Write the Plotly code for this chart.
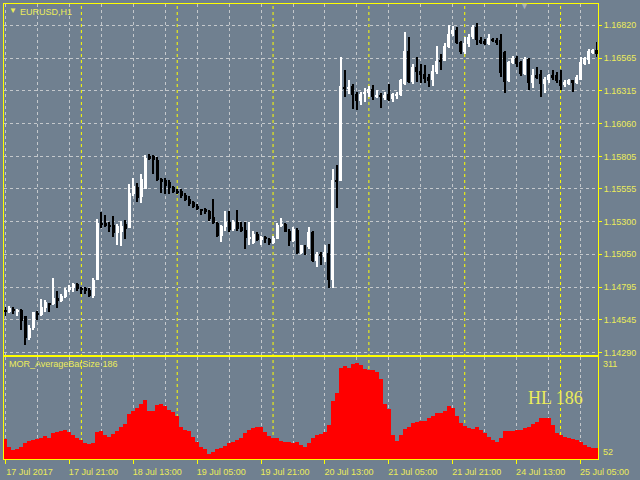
import plotly.graph_objects as go

# ---------------- data (EURUSD H1) ----------------
opens = [
    1.14618, 1.14606, 1.14626, 1.14606, 1.14616, 1.14575, 1.14402, 1.14478, 1.14593, 1.14580,
    1.14631, 1.14669, 1.14663, 1.14708, 1.14687, 1.14721, 1.14772, 1.14790, 1.14817, 1.14790,
    1.14786, 1.14772, 1.14726, 1.14848, 1.15288, 1.15288, 1.15275, 1.15275, 1.15214, 1.15219,
    1.15282, 1.15250, 1.15512, 1.15571, 1.15495, 1.15556, 1.15806, 1.15811, 1.15780, 1.15627,
    1.15622, 1.15610, 1.15571, 1.15536, 1.15536, 1.15505, 1.15479, 1.15449, 1.15423, 1.15396,
    1.15396, 1.15381, 1.15334, 1.15290, 1.15193, 1.15257, 1.15299, 1.15244, 1.15299, 1.15257,
    1.15238, 1.15168, 1.15137, 1.15205, 1.15162, 1.15181, 1.15168, 1.15137, 1.15168, 1.15270,
    1.15282, 1.15232, 1.15155, 1.15238, 1.15060, 1.15122, 1.15104, 1.15223, 1.14994, 1.15053,
    1.15028, 1.15060, 1.14848, 1.15621, 1.15614, 1.16342, 1.16330, 1.16347, 1.16291, 1.16235,
    1.16286, 1.16296, 1.16324, 1.16265, 1.16283, 1.16253, 1.16286, 1.16245, 1.16273, 1.16278,
    1.16368, 1.16623, 1.16380, 1.16495, 1.16464, 1.16439, 1.16419, 1.16393, 1.16457, 1.16552,
    1.16546, 1.16654, 1.16751, 1.16782, 1.16687, 1.16610, 1.16674, 1.16725, 1.16807, 1.16705,
    1.16694, 1.16674, 1.16713, 1.16705, 1.16705, 1.16610, 1.16385, 1.16529, 1.16567, 1.16533,
    1.16439, 1.16559, 1.16373, 1.16431, 1.16444, 1.16368, 1.16393, 1.16431, 1.16431, 1.16393,
    1.16355, 1.16368, 1.16393, 1.16373, 1.16399, 1.16521, 1.16552, 1.16602, 1.16628,
]
highs = [
    1.14644, 1.14652, 1.14639, 1.14626, 1.14626, 1.14575, 1.14504, 1.14606, 1.14611, 1.14700,
    1.14695, 1.14673, 1.14869, 1.14765, 1.14743, 1.14786, 1.14812, 1.14830, 1.14825, 1.14798,
    1.14795, 1.14786, 1.14867, 1.15321, 1.15372, 1.15351, 1.15295, 1.15346, 1.15282, 1.15308,
    1.15315, 1.15594, 1.15640, 1.15602, 1.15667, 1.15819, 1.15821, 1.15819, 1.15803, 1.15640,
    1.15640, 1.15622, 1.15576, 1.15551, 1.15551, 1.15525, 1.15499, 1.15461, 1.15436, 1.15400,
    1.15404, 1.15388, 1.15474, 1.15295, 1.15275, 1.15381, 1.15381, 1.15315, 1.15388, 1.15299,
    1.15295, 1.15295, 1.15232, 1.15219, 1.15193, 1.15188, 1.15173, 1.15193, 1.15288, 1.15328,
    1.15290, 1.15244, 1.15257, 1.15250, 1.15122, 1.15122, 1.15257, 1.15232, 1.15066, 1.15070,
    1.15122, 1.15129, 1.15704, 1.15737, 1.16577, 1.16470, 1.16393, 1.16368, 1.16304, 1.16304,
    1.16330, 1.16347, 1.16355, 1.16317, 1.16296, 1.16304, 1.16363, 1.16296, 1.16304, 1.16406,
    1.16769, 1.16730, 1.16521, 1.16577, 1.16521, 1.16508, 1.16444, 1.16508, 1.16661, 1.16598,
    1.16679, 1.16822, 1.16815, 1.16802, 1.16700, 1.16725, 1.16751, 1.16822, 1.16835, 1.16725,
    1.16713, 1.16751, 1.16720, 1.16720, 1.16751, 1.16623, 1.16546, 1.16585, 1.16585, 1.16546,
    1.16572, 1.16567, 1.16483, 1.16495, 1.16470, 1.16419, 1.16444, 1.16470, 1.16457, 1.16470,
    1.16393, 1.16406, 1.16399, 1.16431, 1.16572, 1.16577, 1.16636, 1.16636, 1.16687,
]
lows = [
    1.14568, 1.14593, 1.14585, 1.14568, 1.14465, 1.14346, 1.14389, 1.14465, 1.14542, 1.14575,
    1.14606, 1.14606, 1.14657, 1.14631, 1.14677, 1.14708, 1.14759, 1.14754, 1.14765, 1.14743,
    1.14743, 1.14721, 1.14713, 1.14848, 1.15250, 1.15257, 1.15223, 1.15181, 1.15122, 1.15112,
    1.15168, 1.15250, 1.15499, 1.15449, 1.15444, 1.15551, 1.15780, 1.15667, 1.15612, 1.15525,
    1.15512, 1.15512, 1.15520, 1.15517, 1.15487, 1.15461, 1.15423, 1.15410, 1.15388, 1.15355,
    1.15357, 1.15308, 1.15282, 1.15181, 1.15142, 1.15232, 1.15223, 1.15232, 1.15232, 1.15219,
    1.15091, 1.15122, 1.15129, 1.15155, 1.15122, 1.15137, 1.15122, 1.15127, 1.15168, 1.15257,
    1.15219, 1.15116, 1.15142, 1.15050, 1.15053, 1.15043, 1.15091, 1.14989, 1.14951, 1.14963,
    1.14989, 1.14790, 1.14790, 1.15405, 1.15614, 1.16265, 1.16291, 1.16171, 1.16163, 1.16202,
    1.16227, 1.16265, 1.16240, 1.16253, 1.16181, 1.16240, 1.16235, 1.16227, 1.16245, 1.16270,
    1.16355, 1.16373, 1.16368, 1.16380, 1.16373, 1.16373, 1.16342, 1.16347, 1.16444, 1.16470,
    1.16541, 1.16644, 1.16738, 1.16674, 1.16598, 1.16598, 1.16654, 1.16713, 1.16669, 1.16674,
    1.16669, 1.16669, 1.16687, 1.16667, 1.16419, 1.16296, 1.16378, 1.16521, 1.16495, 1.16424,
    1.16431, 1.16322, 1.16330, 1.16406, 1.16261, 1.16299, 1.16373, 1.16393, 1.16373, 1.16317,
    1.16342, 1.16355, 1.16304, 1.16368, 1.16393, 1.16508, 1.16516, 1.16598, 1.16572,
]
closes = [
    1.14606, 1.14631, 1.14611, 1.14618, 1.14534, 1.14402, 1.14478, 1.14599, 1.14580, 1.14644,
    1.14677, 1.14662, 1.14708, 1.14687, 1.14729, 1.14772, 1.14799, 1.14817, 1.14777, 1.14779,
    1.14765, 1.14729, 1.14853, 1.15288, 1.15277, 1.15265, 1.15257, 1.15214, 1.15270, 1.15270,
    1.15244, 1.15520, 1.15576, 1.15487, 1.15627, 1.15793, 1.15786, 1.15780, 1.15622, 1.15614,
    1.15576, 1.15558, 1.15530, 1.15525, 1.15499, 1.15469, 1.15436, 1.15415, 1.15396, 1.15386,
    1.15376, 1.15321, 1.15288, 1.15188, 1.15270, 1.15295, 1.15238, 1.15299, 1.15244, 1.15232,
    1.15173, 1.15175, 1.15205, 1.15162, 1.15185, 1.15168, 1.15137, 1.15175, 1.15275, 1.15282,
    1.15223, 1.15155, 1.15244, 1.15060, 1.15122, 1.15112, 1.15223, 1.14994, 1.15053, 1.15043,
    1.15066, 1.14848, 1.15621, 1.15612, 1.16347, 1.16327, 1.16342, 1.16278, 1.16235, 1.16291,
    1.16304, 1.16324, 1.16265, 1.16278, 1.16261, 1.16283, 1.16240, 1.16286, 1.16291, 1.16393,
    1.16623, 1.16380, 1.16495, 1.16457, 1.16431, 1.16406, 1.16388, 1.16464, 1.16546, 1.16541,
    1.16661, 1.16755, 1.16782, 1.16679, 1.16610, 1.16679, 1.16725, 1.16807, 1.16705, 1.16679,
    1.16679, 1.16720, 1.16700, 1.16679, 1.16451, 1.16380, 1.16533, 1.16567, 1.16521, 1.16439,
    1.16559, 1.16373, 1.16431, 1.16414, 1.16368, 1.16406, 1.16431, 1.16414, 1.16385, 1.16347,
    1.16380, 1.16393, 1.16373, 1.16419, 1.16533, 1.16567, 1.16623, 1.16631, 1.16598,
]
avg_bar_size = [
    103, 83, 75, 77, 82, 93, 97, 100, 103, 105,
    110, 105, 117, 120, 123, 125, 122, 114, 105, 99,
    93, 90, 93, 120, 123, 113, 109, 116, 124, 133,
    141, 167, 176, 182, 194, 204, 176, 176, 190, 193,
    187, 178, 173, 163, 133, 126, 123, 107, 94, 83,
    77, 64, 70, 77, 80, 84, 93, 94, 101, 105,
    117, 126, 130, 133, 133, 120, 110, 105, 105, 98,
    96, 94, 93, 94, 87, 83, 93, 105, 112, 116,
    120, 139, 201, 223, 287, 291, 287, 297, 300, 294,
    284, 282, 281, 276, 258, 194, 180, 112, 97, 112,
    128, 135, 143, 148, 150, 150, 156, 161, 171, 169,
    176, 187, 184, 163, 143, 137, 130, 128, 133, 127,
    117, 107, 101, 94, 105, 123, 123, 123, 127, 127,
    130, 135, 141, 148, 156, 158, 158, 140, 118, 114,
    109, 105, 103, 99, 94, 86, 83, 80, 80,
]

time_tick_bars = [0, 16, 32, 48, 64, 80, 96, 112, 128, 144]
time_tick_labels = ["17 Jul 2017", "17 Jul 21:00", "18 Jul 13:00", "19 Jul 05:00",
                    "19 Jul 21:00", "20 Jul 13:00", "21 Jul 05:00", "21 Jul 21:00",
                    "24 Jul 13:00", "25 Jul 05:00"]
price_ticks = [1.16820, 1.16565, 1.16315, 1.16060, 1.15805, 1.15555,
               1.15300, 1.15050, 1.14795, 1.14545, 1.14290]
day_separators = [19, 43, 67, 91, 115, 139]
symbol_label = "EURUSD,H1"
indicator_label = "MOR_AverageBarSize 186"
indicator_big_label = "HL 186"
indicator_max_label = "311"
indicator_min_label = "52"

# ---------------- styling ----------------
BG = "#708090"
YEL = "#ffff00"
TXT = "#ecec5a"
GRID = "#c4c8cc"
FONT = "Liberation Sans"

W, H = 640, 480
ML, MR, MT, MB = 3, 42, 3, 18
PW, PH = W - ML - MR, H - MT - MB


def px_x(p):
    return (p - ML) / PW


def px_y(p):
    return (H - MB - p) / PH


idx = list(range(len(opens)))
cols = ["#ffffff" if c >= o else "#000000" for o, c in zip(opens, closes)]
body_base = [min(o, c) for o, c in zip(opens, closes)]
body_h = [max(abs(c - o), 0.00008) for o, c in zip(opens, closes)]
wick_h = [h - l for h, l in zip(highs, lows)]

fig = go.Figure()
fig.add_trace(go.Bar(x=idx, y=wick_h, base=lows, width=0.25,
                     marker=dict(color=cols, line=dict(width=0)),
                     xaxis="x", yaxis="y", hoverinfo="skip"))
fig.add_trace(go.Bar(x=idx, y=body_h, base=body_base, width=0.75,
                     marker=dict(color=cols, line=dict(width=0)),
                     xaxis="x", yaxis="y", hoverinfo="skip"))
fig.add_trace(go.Bar(x=idx, y=avg_bar_size, width=1.0,
                     marker=dict(color="#ff0000", line=dict(width=0)),
                     xaxis="x2", yaxis="y2", hoverinfo="skip"))

xr = [-0.375, len(opens) - 0.625]
main_dom = [px_y(357), 1.0]
ind_dom = [0.0, px_y(359)]

common_x = dict(range=xr, showline=True, mirror=True, linecolor=YEL, linewidth=1,
                tickvals=time_tick_bars, showgrid=True, gridcolor=GRID, griddash="3px,3px",
                gridwidth=1, zeroline=False,
                minor=dict(tick0=0, dtick=8, showgrid=True, gridcolor=GRID,
                           griddash="3px,3px", gridwidth=1))

fig.update_layout(
    width=W, height=H,
    margin=dict(l=ML, r=MR, t=MT, b=MB, pad=0),
    paper_bgcolor=BG, plot_bgcolor=BG,
    showlegend=False, barmode="overlay", bargap=0,
    font=dict(family=FONT, size=9, color=TXT),
    xaxis=dict(domain=[0, 1], anchor="y", showticklabels=False, ticks="", **common_x),
    yaxis=dict(domain=main_dom, anchor="x", side="right",
               range=[1.14271, 1.16983], tickvals=price_ticks,
               ticktext=[f"{v:.5f}" for v in price_ticks],
               showline=True, mirror=True, linecolor=YEL, linewidth=1,
               ticks="outside", ticklen=3, tickcolor=YEL, tickwidth=1,
               showgrid=True, gridcolor=GRID, griddash="3px,3px", gridwidth=1,
               zeroline=False, tickfont=dict(family=FONT, size=9, color=TXT)),
    xaxis2=dict(domain=[0, 1], anchor="y2", matches="x", ticks="outside", ticklen=4,
                tickcolor=YEL, tickwidth=1, ticktext=time_tick_labels,
                ticklabelshift=24, ticklabelstandoff=0,
                tickfont=dict(family=FONT, size=9, color=TXT), **common_x),
    yaxis2=dict(domain=ind_dom, anchor="x2", side="right", range=[50.7, 314.9],
                showline=True, mirror=True, linecolor=YEL, linewidth=1,
                showticklabels=False, ticks="", showgrid=False, zeroline=False),
)

for d in day_separators:
    fig.add_shape(type="line", xref="x", yref="paper", x0=d, x1=d, y0=0, y1=1,
                  line=dict(color=YEL, width=1, dash="3px,3px"), layer="below")

anns = [
    dict(text="▼", x=px_x(7), y=px_y(10), font=dict(size=8, color=TXT)),
    dict(text=symbol_label, x=px_x(18), y=px_y(11), font=dict(size=9, color=TXT)),
    dict(text=indicator_label, x=px_x(7), y=px_y(366), font=dict(size=9, color=TXT)),
    dict(text=indicator_big_label, x=px_x(527), y=px_y(400),
         font=dict(family="Liberation Serif", size=18, color=TXT)),
    dict(text=indicator_max_label, x=px_x(602), y=px_y(366), font=dict(size=9, color=TXT)),
    dict(text=indicator_min_label, x=px_x(602), y=px_y(455), font=dict(size=9, color=TXT)),
    dict(text="▼", x=px_x(519), y=px_y(5), font=dict(size=9, color="#a8b0b8")),
]
for a in anns:
    fig.add_annotation(xref="paper", yref="paper", xanchor="left", yanchor="middle",
                       showarrow=False, borderpad=0, **a)

fig.write_html("out.html", config={"displayModeBar": False},
               post_script="document.body.style.margin='0';document.body.style.background='" + BG + "';")
